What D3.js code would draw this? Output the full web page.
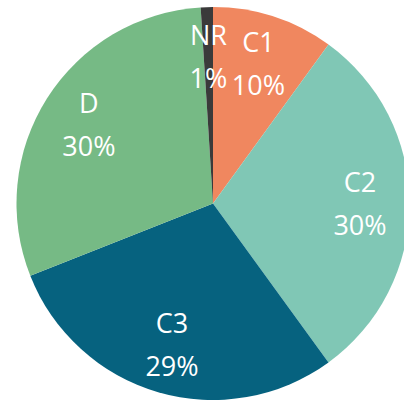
<!DOCTYPE html>
<html><head><meta charset="utf-8">
<script src="https://cdn.jsdelivr.net/npm/d3@7"></script>
<style>html,body{margin:0;padding:0;background:#fff;overflow:hidden}</style>
</head><body>
<svg id="chart" width="404" height="401"></svg>
<script>
const categories = ["C1", "C2", "C3", "D", "NR"];
const values = [10, 30, 29, 30, 1];
const labels = ["10%", "30%", "29%", "30%", "1%"];
const colors = ["#F0875F", "#80C7B5", "#06627F", "#76BA85", "#3A3A3A"];

const svg = d3.select("#chart");
const cx = 213, cy = 203.5, R = 196.5;
const g = svg.append("g").attr("transform", `translate(${cx},${cy})`);

const data = categories.map((c, i) => ({cat: c, value: values[i], label: labels[i], color: colors[i]}));
const pie = d3.pie().value(d => d.value).sort(null);
const arcs = pie(data);
const arc = d3.arc().innerRadius(0).outerRadius(R);
const labelArc = d3.arc().innerRadius(147).outerRadius(147);

g.selectAll("path").data(arcs).join("path")
  .attr("d", arc).attr("fill", d => d.data.color);

const font = "'Open Sans', sans-serif";
const lbl = g.selectAll("g.lbl").data(arcs).join("g").attr("class", "lbl")
  .attr("transform", d => `translate(${labelArc.centroid(d)})`);
lbl.append("text").attr("text-anchor", "middle").attr("y", -12)
  .attr("fill", "#fff").attr("font-family", font).attr("font-size", 27)
  .text(d => d.data.cat);
lbl.append("text").attr("text-anchor", "middle").attr("y", 31)
  .attr("fill", "#fff").attr("font-family", font).attr("font-size", 27)
  .text(d => d.data.label);
</script>
</body></html>
